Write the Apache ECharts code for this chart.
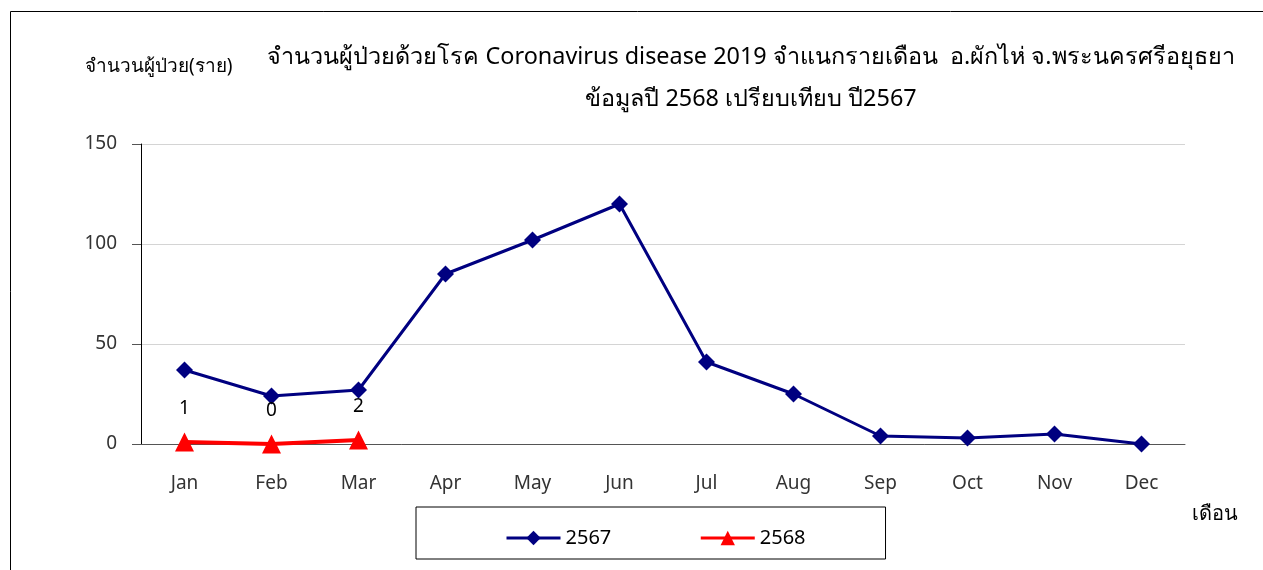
<!DOCTYPE html>
<html>
<head>
<meta charset="utf-8">
<script src="https://cdn.jsdelivr.net/npm/echarts@6/dist/echarts.min.js"></script>
<style>
  html, body { margin: 0; padding: 0; background: #fff; }
  #chart { width: 1263px; height: 570px; }
</style>
</head>
<body>
<div id="chart"></div>
<script>
const months = ['Jan', 'Feb', 'Mar', 'Apr', 'May', 'Jun', 'Jul', 'Aug', 'Sep', 'Oct', 'Nov', 'Dec'];
const cases2567 = [37, 24, 27, 85, 102, 120, 41, 25, 4, 3, 5, 0];
const cases2568 = [1, 0, 2];
const yTicks = [0, 50, 100, 150];

const font = "'Noto Sans', 'DejaVu Sans', sans-serif";
const chart = echarts.init(document.getElementById('chart'), null, { renderer: 'canvas' });

chart.setOption({
  backgroundColor: '#fff',
  animation: false,
  textStyle: { fontFamily: font },
  title: {
    text: 'จำนวนผู้ป่วยด้วยโรค Coronavirus disease 2019 จำแนกรายเดือน  อ.ผักไห่ จ.พระนครศรีอยุธยา\nข้อมูลปี 2568 เปรียบเทียบ ปี2567',
    left: 746,
    top: 31,
    textAlign: 'center',
    textStyle: { fontSize: 23.4, fontWeight: 'normal', color: '#000', lineHeight: 42, fontFamily: font }
  },
  graphic: [
    {
      type: 'rect',
      shape: { x: 10.5, y: 11.5, width: 1300, height: 600 },
      style: { fill: 'none', stroke: '#000', lineWidth: 1 },
      silent: true
    },
    {
      type: 'text',
      left: 85,
      top: 57,
      style: { text: 'จำนวนผู้ป่วย(ราย)', fontSize: 19, fill: '#000', fontFamily: font }
    },
    {
      type: 'text',
      left: 1192,
      top: 504,
      style: { text: 'เดือน', fontSize: 20, fill: '#000', fontFamily: font }
    }
  ],
  legend: {
    left: 416,
    top: 507,
    padding: [21, 80, 11, 89],
    itemGap: 88,
    itemWidth: 54,
    itemHeight: 18,
    borderColor: '#000',
    borderWidth: 1,
    lineStyle: { width: 3 },
    textStyle: { fontSize: 20, color: '#000', fontFamily: font },
    data: ['2567', '2568']
  },
  grid: { left: 141, right: 78, top: 144, bottom: 126 },
  xAxis: {
    type: 'category',
    data: months,
    boundaryGap: true,
    axisLine: { lineStyle: { color: '#555', width: 1 } },
    axisTick: { alignWithLabel: true, length: 6, lineStyle: { color: '#555' } },
    axisLabel: { color: '#333', fontSize: 19, margin: 30, fontFamily: font }
  },
  yAxis: {
    type: 'value',
    min: 0,
    max: 150,
    interval: 50,
    axisLine: { show: true, lineStyle: { color: '#000', width: 1 } },
    axisTick: { show: true, length: 9, lineStyle: { color: '#555' } },
    axisLabel: {
      color: '#333', fontSize: 19, margin: 24, fontFamily: font,
      formatter: (v) => (yTicks.includes(v) ? String(v) : '')
    },
    splitLine: { show: true, lineStyle: { color: '#d4d4d4', width: 1 } }
  },
  series: [
    {
      name: '2567',
      type: 'line',
      data: cases2567,
      symbol: 'diamond',
      symbolSize: 17,
      itemStyle: { color: '#000080' },
      lineStyle: { color: '#000080', width: 3 }
    },
    {
      name: '2568',
      type: 'line',
      data: cases2568,
      symbol: 'triangle',
      symbolSize: 19,
      itemStyle: { color: '#ff0000' },
      lineStyle: { color: '#ff0000', width: 4 },
      label: {
        show: true,
        position: 'top',
        distance: 14,
        fontSize: 19,
        color: '#000',
        fontFamily: font
      }
    }
  ]
});
</script>
</body>
</html>
